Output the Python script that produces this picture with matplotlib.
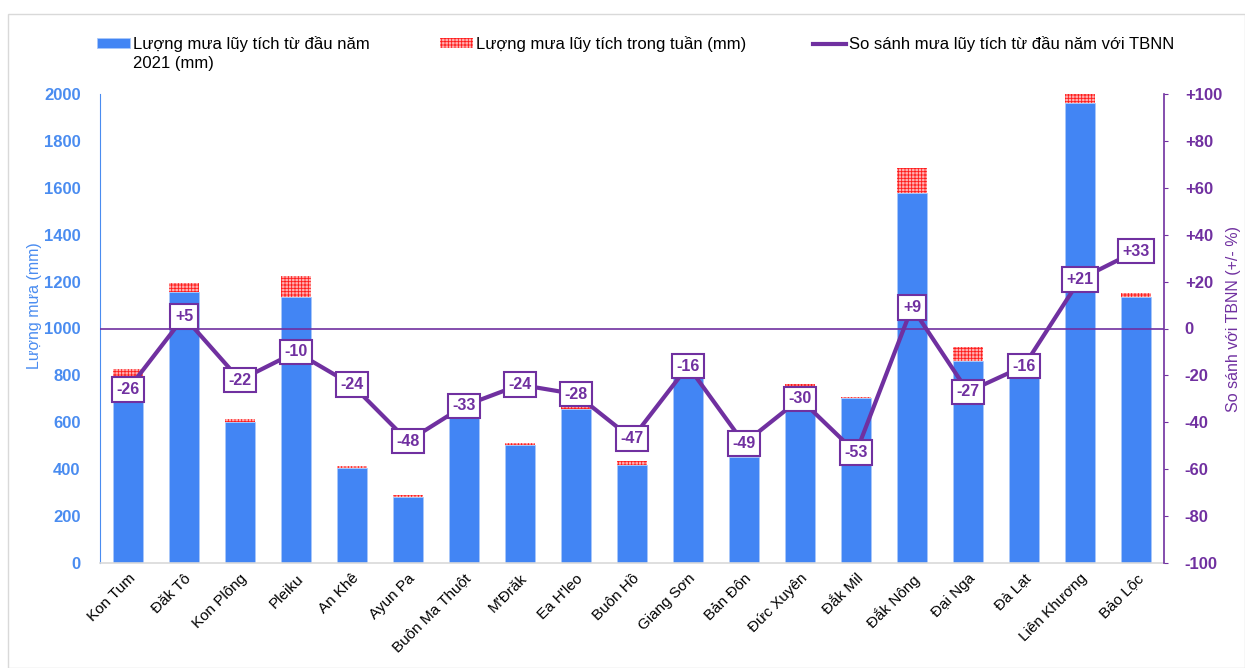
import numpy as np
import matplotlib.pyplot as plt
from matplotlib.patches import Rectangle

plt.rcParams['font.family'] = ['Liberation Sans', 'DejaVu Sans']
plt.rcParams['hatch.color'] = "#ff1a1a"
plt.rcParams['hatch.linewidth'] = 0.6

# -----------------------------
# Data
# -----------------------------
stations = ["Kon Tum", "Đăk Tô", "Kon Plông", "Pleiku", "An Khê", "Ayun Pa",
            "Buôn Ma Thuột", "M'Đrăk", "Ea H'leo", "Buôn Hồ", "Giang Sơn",
            "Bản Đôn", "Đức Xuyên", "Đắk Mil", "Đắk Nông", "Đại Nga", "Đà Lạt",
            "Liên Khương", "Bảo Lộc"]
rain_ytd = [785, 1156, 600, 1134, 405, 283, 715, 503, 657, 418, 810,
            452, 742, 704, 1578, 860, 805, 1962, 1134]
rain_week = [42, 38, 15, 90, 10, 7, 10, 7, 13, 17, 5,
             8, 21, 2, 106, 60, 5, 42, 17]
pct_vs_avg = [-26, 5, -22, -10, -24, -48, -33, -24, -28, -47, -16,
              -49, -30, -53, 9, -27, -16, 21, 33]

BLUE = "#4285f4"
BLUE_TXT = "#4a8cf0"
PURPLE = "#7030a0"

fig = plt.figure(figsize=(12.45, 6.68), dpi=100)
ax = fig.add_axes([100 / 1245, 1 - 563 / 668, (1164 - 100) / 1245, (563 - 94) / 668])
ax2 = ax.twinx()

x = np.arange(len(stations))
b1 = ax.bar(x, rain_ytd, width=0.52, color=BLUE, edgecolor="#a9c8fa", linewidth=0.6,
            label="Lượng mưa lũy tích từ đầu năm", zorder=2)
b2 = ax.bar(x, rain_week, width=0.52, bottom=rain_ytd, facecolor="#ffb0b0",
            edgecolor="#ff1a1a", hatch="+++++", linewidth=0,
            label="Lượng mưa lũy tích trong tuần (mm)", zorder=2)

ax.set_xlim(-0.5, len(stations) - 0.5)
ax.set_ylim(0, 2000)
ax.set_yticks(np.arange(0, 2001, 200))
ax.tick_params(axis="y", colors=BLUE_TXT, length=0, labelsize=12, pad=14)
for t in ax.get_yticklabels():
    t.set_fontweight("bold")
ax.set_ylabel("Lượng mưa (mm)", color=BLUE_TXT, fontsize=11.5)
ax.yaxis.set_label_coords(-0.0545, 0.548)
ax.set_xticks(x)
ax.set_xticklabels(stations, rotation=45, ha="right", rotation_mode="anchor", fontsize=11)
ax.tick_params(axis="x", length=0, pad=6)

for s in ["top", "right"]:
    ax.spines[s].set_visible(False)
ax.spines["left"].set_color(BLUE_TXT)
ax.spines["bottom"].set_color("#d9d9d9")
ax.spines["bottom"].set_linewidth(1.2)

# secondary axis: comparison with long-term mean
ax2.set_ylim(-100, 100)
ax2.set_yticks(np.arange(-100, 101, 20))
ax2.set_yticklabels([f"{v:+d}" if v != 0 else "0" for v in range(-100, 101, 20)])
ax2.tick_params(axis="y", colors=PURPLE, labelsize=12, length=3, direction="out", pad=12)
for t in ax2.get_yticklabels():
    t.set_fontweight("bold")
for s in ["top", "left", "bottom"]:
    ax2.spines[s].set_visible(False)
ax2.spines["right"].set_color(PURPLE)
ax2.spines["right"].set_linewidth(1.2)
ax2.set_ylabel("So sánh với TBNN (+/- %)", color=PURPLE, fontsize=11.5)
ax2.yaxis.set_label_coords(1.058, 0.52)

ax2.axhline(0, color=PURPLE, linewidth=1.2, zorder=3)
line, = ax2.plot(x, pct_vs_avg, color=PURPLE, linewidth=3, zorder=4,
                 label="So sánh mưa lũy tích từ đầu năm với TBNN")
for xi, v in zip(x, pct_vs_avg):
    ax2.text(xi, v, f"{v:+d}", ha="center", va="center", fontsize=11.5,
             fontweight="bold", color=PURPLE, zorder=5,
             bbox=dict(boxstyle="square,pad=0.3", facecolor="white",
                       edgecolor=PURPLE, linewidth=1.5))

# legend: three entries placed along the top
legs = []
for h, xl in [(b1, 97), (b2, 440), (line, 813)]:
    legs.append(fig.legend(handles=[h], loc="upper left", bbox_to_anchor=(xl / 1245, 1 - 36 / 668),
                           frameon=False, fontsize=12, handlelength=2.0, handleheight=0.5,
                           handletextpad=0.15, borderpad=0, borderaxespad=0))

# second line of the first legend label, under its text
fig.canvas.draw()
bb = legs[0].get_texts()[0].get_window_extent()
fig.text(bb.x0 / 1245, (bb.y0 - 4) / 668, "2021 (mm)", fontsize=12, ha="left", va="top")

# light chart border
fig.patches.append(Rectangle((8 / 1245, 0), 1 - 8 / 1245, 1 - 14 / 668, transform=fig.transFigure,
                             fill=False, edgecolor="#d9d9d9", linewidth=1))

fig.savefig("out.png", dpi=100)
